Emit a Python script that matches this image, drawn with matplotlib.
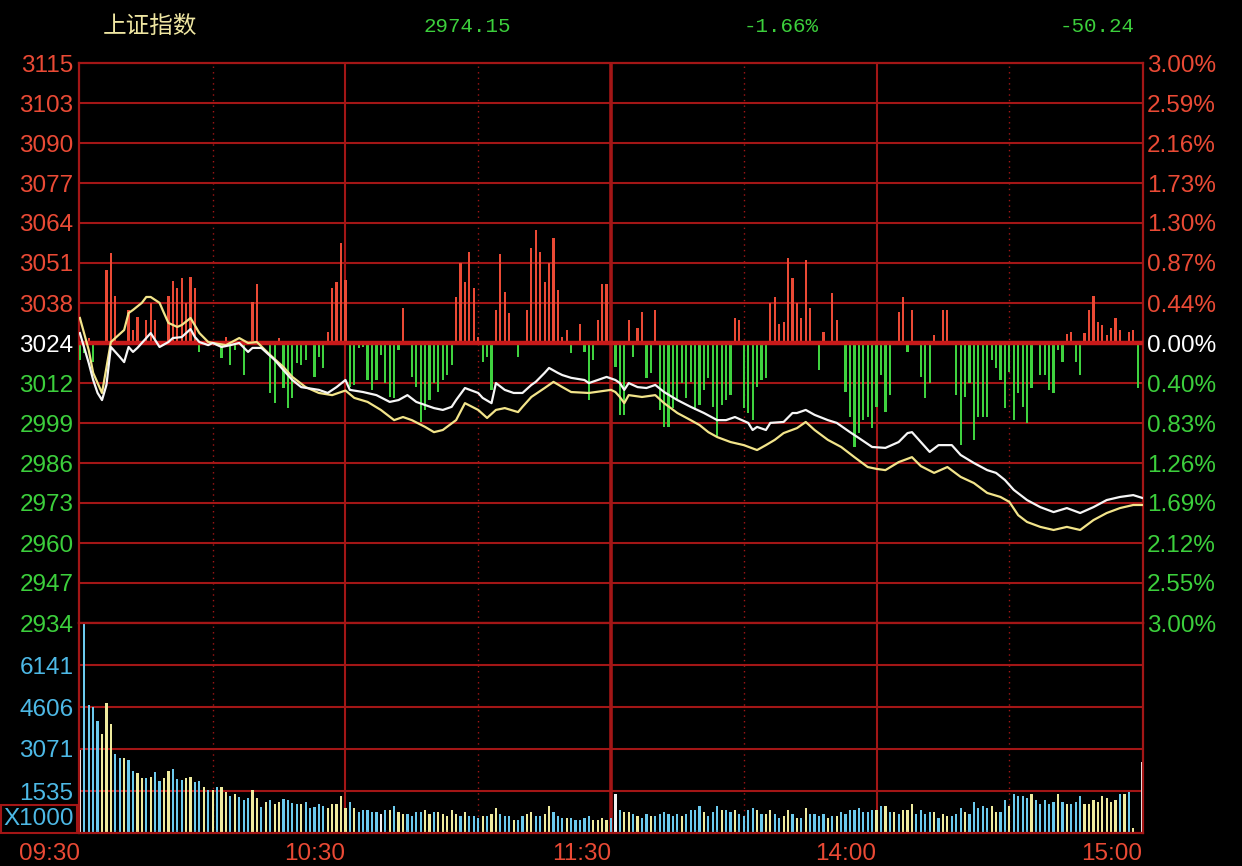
import matplotlib
matplotlib.use("Agg")
import matplotlib.pyplot as plt
import numpy as np

plt.rcParams['font.family'] = ['Liberation Sans', 'Noto Sans CJK SC', 'DejaVu Sans']

# ---- header ----
title = "上证指数"
last_price = "2974.15"
chg_pct = "-1.66%"
chg_pts = "-50.24"
prev_close = 3024.39

# ---- axis labels ----
left_labels = ["3115", "3103", "3090", "3077", "3064", "3051", "3038", "3024",
               "3012", "2999", "2986", "2973", "2960", "2947", "2934"]
right_labels = ["3.00%", "2.59%", "2.16%", "1.73%", "1.30%", "0.87%", "0.44%", "0.00%",
                "0.40%", "0.83%", "1.26%", "1.69%", "2.12%", "2.55%", "3.00%"]
vol_ticks = [1535, 3071, 4606, 6141]
vol_top = 7677
time_ticks = [0, 60, 120, 180, 240]
time_labels = ["09:30", "10:30", "11:30", "14:00", "15:00"]

# ---- index line (white), minute -> price ----
white_min = [0, 2, 3, 4, 5, 6, 7, 9, 10, 11, 12, 13, 14, 15, 16, 18, 20, 21, 23, 25,
             26, 27, 29, 30, 32, 34, 36, 38, 39, 41, 42, 44, 46, 48, 50, 54, 56, 58, 60, 61,
             64, 67, 70, 72, 74, 76, 78, 80, 82, 84, 85, 87, 90, 91, 93, 94, 96, 98, 100, 102,
             103, 105, 106, 108, 109, 111, 114, 115, 117, 119, 121, 122, 123, 124, 126, 128, 130, 132, 135, 138,
             141, 144, 146, 148, 151, 152, 153, 155, 156, 159, 161, 162, 164, 166, 169, 171, 174, 176, 179, 182,
             185, 187, 188, 190, 192, 194, 197, 199, 202, 205, 207, 209, 211, 214, 217, 220, 223, 226, 229, 232,
             235, 238, 240]
white_price = [3027.6, 3017.9, 3012.4, 3008.2, 3005.9, 3010.8, 3023.1, 3019.9, 3018.2, 3023.1,
               3021.5, 3022.8, 3024.4, 3026.0, 3027.6, 3023.1, 3024.7, 3026.0, 3026.3, 3028.9,
               3026.3, 3024.7, 3023.7, 3024.4, 3023.1, 3023.7, 3024.4, 3021.5, 3022.8, 3022.8,
               3021.5, 3018.9, 3015.6, 3012.4, 3010.1, 3009.2, 3008.2, 3010.1, 3012.4, 3009.2,
               3008.5, 3007.5, 3005.3, 3005.9, 3007.5, 3005.3, 3004.3, 3003.3, 3002.7, 3003.7,
               3005.9, 3009.8, 3008.2, 3006.6, 3004.9, 3011.4, 3009.2, 3008.2, 3008.2, 3010.8,
               3011.8, 3014.7, 3016.3, 3014.7, 3014.0, 3013.1, 3012.4, 3011.4, 3012.4, 3013.4,
               3012.4, 3011.4, 3009.2, 3011.4, 3010.1, 3009.8, 3010.8, 3008.5, 3005.9, 3003.7,
               3001.7, 2999.4, 2999.4, 3000.4, 2998.5, 2996.2, 2997.2, 2996.2, 2998.5, 2998.8,
               3001.7, 3001.7, 3002.7, 3001.1, 2999.4, 2998.5, 2995.5, 2993.6, 2990.7, 2990.4,
               2992.3, 2995.2, 2995.5, 2992.3, 2989.1, 2991.3, 2991.3, 2988.1, 2985.5, 2983.2,
               2982.3, 2980.0, 2976.8, 2973.5, 2971.2, 2969.6, 2970.9, 2969.3, 2971.2, 2973.5,
               2974.5, 2975.1, 2974.2]

# ---- second line (yellow) ----
yellow_min = [0, 2, 3, 5, 7, 10, 11, 12, 14, 15, 16, 18, 19, 20, 22, 23, 25, 27, 29, 30,
              33, 36, 38, 40, 43, 46, 48, 51, 54, 57, 60, 62, 65, 68, 71, 73, 75, 78, 80, 82,
              85, 87, 90, 92, 94, 96, 99, 100, 102, 105, 107, 109, 111, 115, 120, 121, 122, 123, 124, 127,
              130, 132, 135, 138, 140, 142, 144, 147, 150, 153, 155, 157, 159, 162, 164, 166, 169, 172, 175, 178,
              180, 182, 185, 188, 190, 193, 196, 199, 202, 205, 208, 210, 212, 214, 217, 220, 223, 226, 229, 232,
              235, 238, 240]
yellow_price = [3032.5, 3022.1, 3014.7, 3008.2, 3024.7, 3028.6, 3034.1, 3035.1, 3037.4, 3039.3,
                3039.3, 3037.4, 3034.1, 3030.9, 3029.6, 3030.2, 3032.5, 3027.6, 3024.7, 3024.4,
                3023.7, 3026.0, 3024.4, 3024.7, 3020.5, 3016.6, 3013.4, 3010.1, 3008.2, 3007.5,
                3009.0, 3006.6, 3005.3, 3002.7, 2999.4, 3000.4, 2999.4, 2997.2, 2995.5, 2996.2,
                2999.4, 3004.9, 3002.7, 3000.1, 3002.7, 3003.3, 3002.0, 3003.7, 3006.9, 3009.8,
                3011.8, 3010.1, 3008.5, 3008.2, 3009.2, 3008.5, 3006.9, 3004.9, 3007.5, 3006.9,
                3007.5, 3004.9, 3001.7, 2999.4, 2997.8, 2995.5, 2993.9, 2992.3, 2991.3, 2989.7,
                2991.3, 2993.0, 2995.2, 2996.8, 2998.8, 2996.2, 2993.0, 2990.7, 2987.4, 2984.2,
                2983.6, 2983.2, 2985.8, 2987.4, 2984.5, 2982.3, 2984.2, 2981.0, 2979.0, 2975.8,
                2974.5, 2972.9, 2968.6, 2966.4, 2964.8, 2963.8, 2964.8, 2963.8, 2967.0, 2969.3,
                2970.9, 2971.9, 2971.9]

# ---- red / green strength bars ----
strength_min = [0, 1, 2, 3, 6, 7, 8, 11, 12, 13, 15, 16, 17, 20, 21, 22, 23, 24, 25, 26,
                27, 32, 33, 34, 35, 37, 39, 40, 43, 44, 45, 46, 47, 48, 49, 50, 51, 53, 54, 55,
                56, 57, 58, 59, 60, 61, 62, 63, 64, 65, 66, 67, 68, 69, 70, 71, 72, 73, 75, 76,
                77, 78, 79, 80, 81, 82, 83, 84, 85, 86, 87, 88, 89, 90, 91, 92, 93, 94, 95, 96,
                97, 99, 101, 102, 103, 104, 105, 106, 107, 108, 109, 110, 111, 113, 114, 115, 116, 117, 118, 119,
                121, 122, 123, 124, 125, 126, 127, 128, 129, 130, 131, 132, 133, 134, 135, 136, 137, 138, 139, 140,
                141, 142, 143, 144, 145, 146, 147, 148, 149, 150, 151, 152, 153, 154, 155, 156, 157, 158, 159, 160,
                161, 162, 163, 164, 165, 167, 168, 170, 171, 173, 174, 175, 176, 177, 178, 179, 180, 181, 182, 183,
                185, 186, 187, 188, 190, 191, 192, 193, 195, 196, 198, 199, 200, 201, 202, 203, 204, 205, 206, 207,
                208, 209, 210, 211, 212, 213, 214, 215, 217, 218, 219, 220, 221, 222, 223, 224, 225, 226, 227, 228,
                229, 230, 231, 232, 233, 234, 235, 237, 238, 239]
strength_val = [-17, -10, 5, -19, 73, 90, 47, 33, 13, 26, 23, 40, 23, 47, 62, 55, 65, 40, 66, 55,
                -9, -15, 6, -22, -7, -32, 41, 59, -50, -60, 5, -45, -65, -55, -20, -22, -17, -34, -14, -25,
                11, 55, 61, 100, 63, -44, -42, -5, -4, -37, -47, -37, -12, -40, -54, -55, -7, 35, -34, -44,
                -79, -67, -57, -40, -49, -37, -32, -22, 46, 80, 61, 91, 55, 6, -19, -14, -47, 33, 89, 51,
                30, -14, 33, 95, 113, 91, 61, 80, 105, 53, 6, 13, -10, 19, -9, -57, -17, 23, 59, 59,
                -24, -72, -72, 23, -14, 15, 31, -35, -30, 33, -67, -84, -84, -65, -57, -40, -55, -39, -67, -62,
                -47, -35, -64, -94, -62, -57, -52, 25, 23, -65, -70, -77, -44, -37, -35, 40, 46, 19, 21, 85,
                65, 40, 25, 83, 35, -27, 11, 50, 23, -49, -74, -104, -90, -77, -74, -85, -64, -32, -69, -52,
                31, 46, -9, 33, -34, -55, -40, 8, 33, 33, -52, -102, -54, -40, -97, -74, -74, -74, -17, -25,
                -37, -65, -29, -77, -50, -64, -80, -45, -32, -32, -47, -50, -7, -19, 9, 11, -19, -32, 10, 33,
                47, 21, 18, 8, 15, 25, 13, 11, 13, -45]

# ---- volume (x1000), one bar per minute, u = up, d = down, w = flat ----
volume = [3030, 7650, 4680, 4620, 4110, 3610, 4770, 3970, 2880, 2730,
          2730, 2660, 2280, 2210, 2000, 2000, 2060, 2220, 1910, 2000,
          2280, 2350, 1990, 1940, 2000, 2060, 1850, 1910, 1690, 1560,
          1560, 1690, 1690, 1490, 1340, 1410, 1330, 1190, 1270, 1570,
          1270, 960, 1120, 1190, 1050, 1120, 1260, 1190, 1080, 1050,
          1050, 1120, 900, 960, 1050, 970, 900, 1050, 1050, 1340,
          900, 1120, 900, 760, 830, 830, 760, 760, 680, 830,
          830, 970, 760, 680, 680, 610, 760, 760, 830, 680,
          760, 760, 680, 610, 830, 680, 610, 760, 610, 610,
          540, 610, 610, 680, 900, 680, 610, 610, 460, 460,
          610, 680, 760, 610, 610, 680, 970, 760, 610, 540,
          540, 540, 460, 460, 540, 610, 460, 460, 540, 460,
          540,
          1410, 830, 760, 760, 680, 610, 540, 680, 610, 610,
          680, 760, 680, 610, 680, 610, 680, 830, 830, 980,
          760, 610, 760, 980, 830, 830, 760, 830, 680, 610,
          830, 900, 830, 680, 680, 830, 680, 540, 610, 830,
          680, 540, 540, 900, 680, 680, 610, 680, 540, 610,
          610, 760, 680, 830, 830, 900, 760, 760, 830, 830,
          980, 980, 760, 760, 680, 830, 830, 1050, 680, 830,
          680, 760, 760, 540, 680, 610, 610, 680, 900, 760,
          680, 1120, 900, 980, 900, 980, 760, 760, 1200, 980,
          1410, 1340, 1340, 1270, 1410, 1200, 1050, 1200, 1050, 1120,
          1410, 1120, 1050, 1050, 1120, 1340, 1050, 1050, 1200, 1120,
          1340, 1270, 1120, 1200, 1410, 1410, 1490, 170, 0, 2600]
vol_dir = ("wuuuuddduu" "duudduduud" "duuudduudu" "dudduduuud" "dududduuuu"
           "duuuuudddd" "duduuuuuwu" "dudduuuudd" "uddddduduu" "ududduuudu"
           "udduudduuu" "duuuuudddd" "u"
           "wudduduudu" "uuuuuduuuu" "duuuduuduu" "uududduudd" "ududuuuudu"
           "duuuuuuuud" "udududdduu" "uududduuud" "uuuuudduud" "uuuuduuuuu"
           "duduuudddd" "ddddududdw")

# ---- colours ----
BG = "black"
GRID = "#a31616"
ZERO = "#c81a1a"
RED_TXT = "#ea4a35"
GREEN_TXT = "#3ccf3c"
BLUE_TXT = "#4db9e6"
UP_BAR = "#ea4a35"
DN_BAR = "#3fd23f"
VOL_C = {"u": "#6ccaee", "d": "#efeb9e", "w": "#f2f2f2"}

W, H = 1242, 866


def rect(x0, y0, x1, y1):
    return [x0 / W, 1 - y1 / H, (x1 - x0) / W, (y1 - y0) / H]


fig = plt.figure(figsize=(W / 100, H / 100), dpi=100, facecolor=BG)
xlim = (-0.2, 240.2)
lo, hi = prev_close * 0.97, prev_close * 1.03
levels = prev_close * (1 + np.linspace(0.03, -0.03, 15))
label_colors = [RED_TXT] * 7 + ["white"] + [GREEN_TXT] * 7

# grid layer with left labels
ax_g = fig.add_axes(rect(79, 63, 1143, 623))
ax_g.set_facecolor(BG)
ax_g.set_xlim(*xlim)
ax_g.set_ylim(lo, hi)
for lv in levels[1:-1]:
    ax_g.axhline(lv, color=GRID, lw=1.5, zorder=1)
for m in [60, 180]:
    ax_g.axvline(m, color=GRID, lw=1.5, zorder=1)
ax_g.axvline(120, color=GRID, lw=2.6, zorder=1)
for m in [30, 90, 150, 210]:
    ax_g.axvline(m, color=GRID, lw=1.0, ls=(0, (1, 3)), zorder=1)
ax_g.set_yticks(levels, left_labels)
ax_g.set_xticks([])
ax_g.tick_params(axis='y', length=0, pad=4, labelsize=17.5)
for lbl, c in zip(ax_g.get_yticklabels(), label_colors):
    lbl.set_color(c)
for sp in ax_g.spines.values():
    sp.set_color(GRID)
    sp.set_linewidth(1.6)

# strength bars
ax_s = fig.add_axes(rect(79, 63, 1143, 623))
ax_s.patch.set_visible(False)
ax_s.set_xlim(*xlim)
ax_s.set_ylim(-280, 280)
ax_s.bar(strength_min, strength_val, width=0.5, linewidth=0, antialiased=False,
         color=[UP_BAR if v > 0 else DN_BAR for v in strength_val], zorder=2)
ax_s.axhline(0, color=ZERO, lw=3.2, zorder=3)
ax_s.axis("off")

# price lines with right labels
ax_l = fig.add_axes(rect(79, 63, 1143, 623))
ax_l.patch.set_visible(False)
ax_l.set_xlim(*xlim)
ax_l.set_ylim(lo, hi)
ax_l.plot(yellow_min, yellow_price, color="#f2e48a", lw=1.6)
ax_l.plot(white_min, white_price, color="#f6f6f6", lw=1.6)
ax_l.yaxis.tick_right()
ax_l.set_yticks(levels, right_labels)
ax_l.set_xticks([])
ax_l.tick_params(axis='y', length=0, pad=3, labelsize=17.5)
for lbl, c in zip(ax_l.get_yticklabels(), label_colors):
    lbl.set_color(c)
for sp in ax_l.spines.values():
    sp.set_visible(False)

# volume panel
ax_v = fig.add_axes(rect(79, 623, 1143, 833))
ax_v.set_facecolor(BG)
ax_v.set_xlim(*xlim)
ax_v.set_ylim(0, vol_top)
for t in vol_ticks:
    ax_v.axhline(t, color=GRID, lw=1.5, zorder=1)
for m in [60, 180]:
    ax_v.axvline(m, color=GRID, lw=1.5, zorder=1)
ax_v.axvline(120, color=GRID, lw=2.6, zorder=1)
for m in [30, 90, 150, 210]:
    ax_v.axvline(m, color=GRID, lw=1.0, ls=(0, (1, 3)), zorder=1)
ax_v.bar(np.arange(len(volume)), volume, width=0.5, linewidth=0, antialiased=False,
         color=[VOL_C[d] for d in vol_dir], zorder=2)
ax_v.set_yticks(vol_ticks, [str(t) for t in vol_ticks])
ax_v.tick_params(axis='y', length=0, pad=4, labelsize=17.5, labelcolor=BLUE_TXT)
ax_v.set_xticks(time_ticks, time_labels)
ax_v.tick_params(axis='x', length=0, pad=7, labelsize=17.5, labelcolor=RED_TXT)
for lbl in ax_v.get_xticklabels():
    lbl.set_horizontalalignment("right")
for sp in ax_v.spines.values():
    sp.set_color(GRID)
    sp.set_linewidth(1.6)

fig.text(39 / W, 1 - 819 / H, "X1000", color=BLUE_TXT, fontsize=17.5,
         ha="center", va="center",
         bbox=dict(boxstyle="square,pad=0.12", fc=BG, ec=GRID, lw=1.5))

# header
fig.text(150 / W, 1 - 26 / H, title, color="#efe6a2", fontsize=17,
         family=["Noto Sans CJK SC", "DejaVu Sans"], ha="center", va="center")
for txt, xc in [(last_price, 467), (chg_pct, 781), (chg_pts, 1097)]:
    fig.text(xc / W, 1 - 26 / H, txt, color=GREEN_TXT, fontsize=15,
             family=["Liberation Mono", "DejaVu Sans Mono"], ha="center", va="center")

fig.savefig("out.png", dpi=100, facecolor=BG)
